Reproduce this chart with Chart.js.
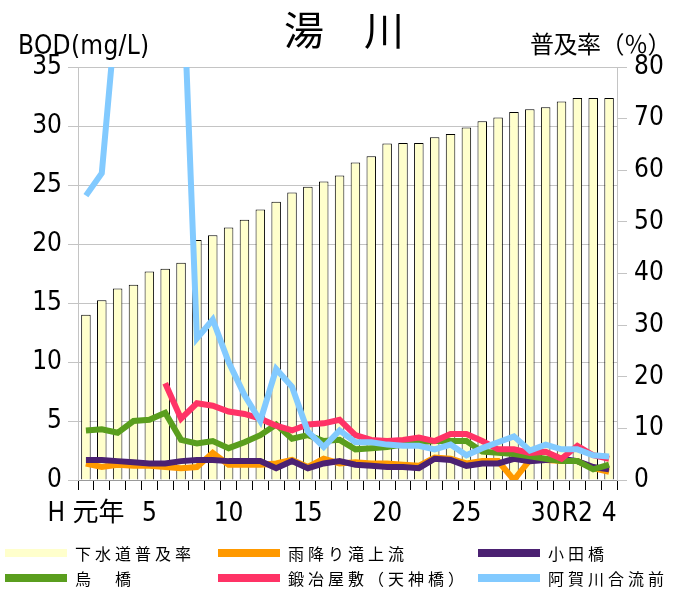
<!DOCTYPE html>
<html>
<head>
<meta charset="utf-8">
<script src="https://cdn.jsdelivr.net/npm/chart.js@4/dist/chart.umd.min.js"></script>
<style>
    body { margin: 0; background: #fff; }
    #wrap { position: relative; width: 676px; height: 591px; font-family: 'Noto Sans CJK JP', sans-serif; color: #000; }
    #wrap canvas { position: absolute; left: 0; top: 0; }
    .txt { position: absolute; white-space: nowrap; }
    #title { left: 0; width: 688px; top: 8px; text-align: center; font-size: 40px; line-height: 40px; }
    #unitL { left: 18px; top: 31px; font-family: 'Liberation Sans Narrow', 'DejaVu Sans Condensed', sans-serif; font-size: 26px; line-height: 28px; letter-spacing: 0.3px; }
    #unitR { left: 530px; top: 30px; font-size: 24px; line-height: 26px; letter-spacing: -0.5px; }
    .leg { position: absolute; height: 22px; display: flex; align-items: center; font-size: 16px; letter-spacing: 4px; }
    .leg span.sw { display: inline-block; width: 62px; height: 8px; margin-right: 8px; }
</style>
</head>
<body>
<div id="wrap">
    <canvas id="yugawa" width="676" height="591"></canvas>
    <div class="txt" id="title">湯　川</div>
    <div class="txt" id="unitL">BOD(mg/L)</div>
    <div class="txt" id="unitR">普及率（％）</div>
    <div id="legend"></div>
</div>
<script>
// 年度 H1 .. H30, R1 .. R4
const years = ['H 元年', '', '', '', '5', '', '', '', '', '10', '', '', '', '', '15', '', '', '', '', '20',
    '', '', '', '', '25', '', '', '', '', '30', '', 'R2', '', '4'];

// 下水道普及率 (%)
const fukyuritsu = [32.0, 34.8, 37.1, 37.8, 40.4, 40.9, 42.1, 46.5, 47.4, 48.9, 50.4, 52.4, 53.9, 55.7, 56.8, 57.8, 59.0,
    61.5, 62.7, 65.2, 65.3, 65.3, 66.4, 67.0, 68.3, 69.5, 70.2, 71.3, 71.8, 72.2, 73.3, 74.0, 74.0, 74.0];

// BOD (mg/L)
const amefuri = [1.4, 1.1, 1.3, 1.2, 1.2, 1.1, 1.0, 1.1, 2.3, 1.3, 1.3, 1.3, 1.4, 1.7, 1.1, 1.8, 1.4,
    1.5, 1.4, 1.4, 1.3, 1.2, 1.9, 1.8, 1.4, 1.6, 1.6, 0.0, 1.7, 1.7, 1.6, 1.6, 1.0, 0.7];
const odabashi = [1.7, 1.7, 1.6, 1.5, 1.4, 1.4, 1.6, 1.7, 1.7, 1.6, 1.6, 1.6, 1.0, 1.6, 1.0, 1.4, 1.6,
    1.3, 1.2, 1.1, 1.1, 1.0, 1.8, 1.7, 1.2, 1.4, 1.4, 1.8, 1.6, 1.7, 1.8, 1.6, 1.1, 0.9];
const karasubashi = [4.2, 4.3, 4.0, 5.0, 5.1, 5.7, 3.4, 3.1, 3.3, 2.7, 3.2, 3.8, 4.7, 3.5, 3.8, 3.3, 3.4,
    2.6, 2.7, 2.8, 3.0, 3.2, 3.3, 3.3, 3.3, 2.4, 2.3, 2.2, 2.0, 1.8, 1.6, 1.6, 0.9, 1.3];
const kajiyashiki = [null, null, null, null, null, 8.2, 5.2, 6.5, 6.3, 5.8, 5.6, 5.2, 4.6, 4.2, 4.7, 4.8, 5.1,
    3.8, 3.4, 3.3, 3.4, 3.6, 3.3, 3.9, 3.9, 3.3, 2.6, 2.6, 2.3, 2.4, 1.8, 2.9, 2.1, 1.8];
const agagawa = [24.1, 26.0, 41, 45, 48, 50, 47, 12.0, 13.6, 10.0, 7.2, 5.0, 9.4, 7.9, 4.1, 2.8, 4.2,
    3.2, 3.2, 3.0, 2.9, 2.9, 2.6, 3.0, 2.1, 2.7, 3.2, 3.7, 2.5, 3.0, 2.6, 2.6, 2.1, 2.0];

const tickFont = { family: "'Liberation Sans Narrow', 'DejaVu Sans Condensed', 'Noto Sans CJK JP', sans-serif", size: 26 };
const gridGray = '#c4c4c4';

function lineSet(label, data, color, order) {
    return {
        type: 'line',
        label: label,
        data: data,
        yAxisID: 'y',
        borderColor: color,
        backgroundColor: color,
        borderWidth: 6,
        pointRadius: 0,
        tension: 0,
        order: order
    };
}

const yugawaData = {
    labels: years,
    datasets: [
        {
            type: 'bar',
            label: '下水道普及率',
            data: fukyuritsu,
            yAxisID: 'y1',
            backgroundColor: '#FFFFCC',
            borderColor: '#000',
            borderWidth: 1,
            categoryPercentage: 1,
            barPercentage: 0.6,
            order: 10
        },
        lineSet('雨降り滝上流', amefuri, '#FF9900', 6),
        lineSet('小田橋', odabashi, '#4B2172', 5),
        lineSet('烏　橋', karasubashi, '#5A9E1E', 4),
        lineSet('鍛冶屋敷（天神橋）', kajiyashiki, '#FF3366', 3),
        lineSet('阿賀川合流前', agagawa, '#82CAFF', 2)
    ]
};

function renderChart(ctx) {
    return new Chart(ctx, {
        data: yugawaData,
        options: {
            responsive: false,
            animation: false,
            layout: { padding: { top: 67, bottom: 61, left: 0, right: 0 } },
            plugins: {
                legend: { display: false },
                title: { display: false },
                tooltip: { enabled: false }
            },
            events: [],
            scales: {
                x: {
                    offset: true,
                    grid: {
                        offset: true,
                        drawOnChartArea: false,
                        drawTicks: true,
                        tickLength: 10,
                        tickColor: '#000',
                        color: '#000'
                    },
                    border: { color: '#999' },
                    ticks: {
                        autoSkip: false,
                        maxRotation: 0,
                        minRotation: 0,
                        padding: 9,
                        color: '#000',
                        font: tickFont
                    },
                    afterFit: function(scale) { scale.height = 50; }
                },
                y: {
                    position: 'left',
                    min: 0,
                    max: 35,
                    grid: { color: gridGray, tickColor: gridGray, tickLength: 10 },
                    border: { color: gridGray },
                    ticks: {
                        stepSize: 2.5,
                        padding: 6,
                        color: '#000',
                        font: tickFont,
                        callback: function(v) { return v % 5 === 0 ? v : ''; }
                    },
                    afterFit: function(scale) { scale.width = 78; }
                },
                y1: {
                    position: 'right',
                    min: 0,
                    max: 80,
                    grid: { drawOnChartArea: false, color: gridGray, tickColor: gridGray, tickLength: 10 },
                    border: { color: gridGray },
                    ticks: {
                        stepSize: 10,
                        padding: 7,
                        color: '#000',
                        font: tickFont
                    },
                    afterFit: function(scale) { scale.width = 59; }
                }
            }
        }
    });
}

// 凡例 (3列 x 2行)
function renderLegend(chart) {
    const box = document.getElementById('legend');
    const colX = [5, 218, 478];
    const rowY = [542, 567];
    chart.data.datasets.forEach(function(ds, i) {
        const item = document.createElement('div');
        item.className = 'leg';
        item.style.left = colX[i % 3] + 'px';
        item.style.top = rowY[Math.floor(i / 3)] + 'px';
        const sw = document.createElement('span');
        sw.className = 'sw';
        sw.style.background = ds.type === 'bar' ? ds.backgroundColor : ds.borderColor;
        const tx = document.createElement('span');
        tx.textContent = ds.label;
        item.appendChild(sw);
        item.appendChild(tx);
        box.appendChild(item);
    });
}

window.onload = function() {
    const ctx = document.getElementById('yugawa').getContext('2d');
    const chart = renderChart(ctx);
    renderLegend(chart);
};
</script>
</body>
</html>
